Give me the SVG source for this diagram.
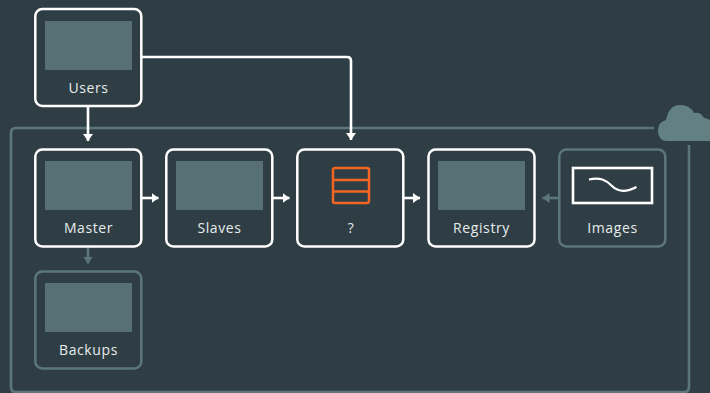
<svg xmlns="http://www.w3.org/2000/svg" width="710" height="393" viewBox="0 0 710 393">
<style>
.bg{fill:#2f3e44}
.n{fill:#2f3e44;stroke:#fff;stroke-width:2.5}
.m{fill:#2f3e44;stroke:#5b777b;stroke-width:2.5}
.p{fill:#567074}
.t{font-family:"Open Sans","Noto Sans",sans-serif;font-size:14px;letter-spacing:.6px;fill:#e6ecec;text-anchor:middle}
.w{fill:none;stroke:#fff;stroke-width:2.6}
.g{fill:none;stroke:#5b777b;stroke-width:2.6}
.o{fill:none;stroke:#f26522;stroke-width:2.5;stroke-linejoin:round}
</style>
<defs>
<marker id="aw" markerUnits="userSpaceOnUse" markerWidth="7" markerHeight="11" refX="7" refY="5.500" orient="auto"><path d="M0 0.500L7 5.500L0 10.500z" fill="#fff"/></marker>
<marker id="ag" markerUnits="userSpaceOnUse" markerWidth="7" markerHeight="11" refX="7" refY="5.500" orient="auto"><path d="M0 0.500L7 5.500L0 10.500z" fill="#5b777b"/></marker>
</defs>
<rect class="bg" width="710" height="393"/>
<path class="g" d="M654 128H16Q11 128 11 133V387Q11 392 16 392H684Q689 392 689 387V145" stroke-width="2.4"/>
<path id="cloud" fill="#638084" d="M668 141Q658 141 658 131Q658 122 666 120Q669 105 680 105Q690 105 694 113Q701 112 704 118Q710 119 710 121V141z"/>
<g id="connectors">
<path class="w" d="M88 106V141" marker-end="url(#aw)"/>
<path class="w" d="M142 57H347Q351 57 351 61V140" marker-end="url(#aw)"/>
<path class="w" d="M142 198H158.500" marker-end="url(#aw)"/>
<path class="w" d="M273 198H289.500" marker-end="url(#aw)"/>
<path class="w" d="M404 198H420" marker-end="url(#aw)"/>
<path class="g" d="M559 198H542.500" marker-end="url(#ag)"/>
<path class="g" d="M88 247V263.500" marker-end="url(#ag)"/>
</g>
<g id="users"><rect class="n" x="35.300" y="9" width="106" height="97" rx="7"/><rect class="p" x="45" y="21" width="87" height="49"/><text class="t" x="88.500" y="93">Users</text></g>
<g id="master"><rect class="n" x="35.300" y="149.500" width="106" height="97" rx="7"/><rect class="p" x="45" y="161" width="87" height="49"/><text class="t" x="88.500" y="233">Master</text></g>
<g id="slaves"><rect class="n" x="166.300" y="149.500" width="106" height="97" rx="7"/><rect class="p" x="176" y="161" width="87" height="49"/><text class="t" x="219.500" y="233">Slaves</text></g>
<g id="unknown"><rect class="n" x="297.300" y="149.500" width="106" height="97" rx="7"/><rect class="o" x="333" y="168" width="36" height="35" rx="2"/><path class="o" d="M333 180H369M333 191.500H369"/><text class="t" x="351" y="233">?</text></g>
<g id="registry"><rect class="n" x="428.500" y="149.500" width="106" height="97" rx="7"/><rect class="p" x="438" y="161" width="87" height="49"/><text class="t" x="481.500" y="233">Registry</text></g>
<g id="images"><rect class="m" x="559.300" y="149.500" width="106" height="97" rx="7"/><rect fill="none" stroke="#fff" stroke-width="2.600" x="573" y="168" width="79" height="35"/><path fill="none" stroke="#fff" stroke-width="2.200" d="M589 179.500C600 177 606 180 612 186C618 192 627 192 636.500 187"/><text class="t" x="612.500" y="233">Images</text></g>
<g id="backups"><rect class="m" x="35.300" y="271.500" width="106" height="97" rx="7"/><rect class="p" x="45" y="283" width="87" height="49"/><text class="t" x="88.500" y="355">Backups</text></g>
</svg>
